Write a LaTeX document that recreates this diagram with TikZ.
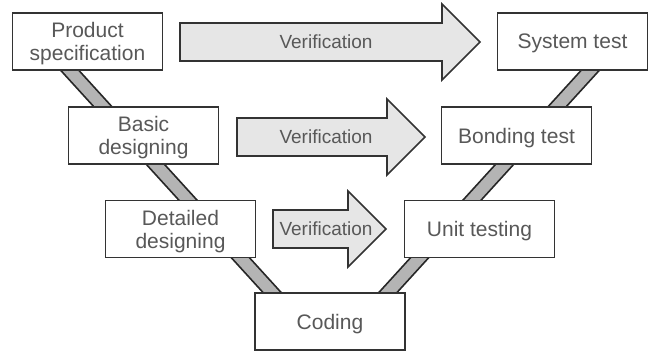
\documentclass[tikz,border=0pt]{standalone}
\usepackage{fontspec}
\setmainfont{Liberation Sans}
\definecolor{txtgray}{HTML}{585858}
\definecolor{linegray}{HTML}{333333}
\definecolor{bandgray}{HTML}{B4B4B4}
\definecolor{arrowfill}{HTML}{E6E6E6}

\begin{document}
\begin{tikzpicture}[x=1pt,y=-1pt,
    box/.style={draw=linegray,line width=1.6pt,fill=white,minimum width=150pt,
      minimum height=57pt,align=center,text=txtgray,inner sep=0pt,text depth=0pt,
      font=\fontsize{21}{23}\selectfont},
    verif/.style={draw=linegray,line width=1.6pt,fill=arrowfill},
    vlabel/.style={text=txtgray,inner sep=0pt,font=\fontsize{19}{21}\selectfont},
    bandout/.style={line width=15pt,draw=black!85},
    bandin/.style={line width=11.5pt,draw=bandgray}]

    \useasboundingbox (0,0) rectangle (655,351);

    % the two legs of the V
    \coordinate (lt) at (55.8,55);
    \coordinate (lb) at (286.2,308);
    \coordinate (rt) at (604.2,55);
    \coordinate (rb) at (373.8,308);
    \foreach \a/\b in {lt/lb,rt/rb}
    {
    \draw[bandout] (\a) -- (\b);
    \draw[bandin] (\a) -- (\b);
    }

    % design steps
    \node[box] (ps) at (87.5,41.5) {Product\\specification};
    \node[box] (bd) at (143.5,135.5) {Basic\\designing};
    \node[box] (dd) at (180.5,229) {Detailed\\designing};
    \node[box] (cod) at (330,321.5) {Coding};
    % test steps
    \node[box] (st) at (572.5,41.5) {System test};
    \node[box] (bt) at (516.5,135.5) {Bonding test};
    \node[box] (ut) at (479.5,229) {Unit testing};

    % verification arrows
    \foreach \n/\l/\k/\t/\y in {a/180/442/480/42, b/237/387/425/137, c/273/348/386/229}
    {
    \draw[verif] (\l,\y-19) -- (\k,\y-19) -- (\k,\y-38) -- (\t,\y)
      -- (\k,\y+38) -- (\k,\y+19) -- (\l,\y+19) -- cycle;
    \node[vlabel] (v\n) at (326,\y) {Verification};
    }

\end{tikzpicture}
\end{document}
